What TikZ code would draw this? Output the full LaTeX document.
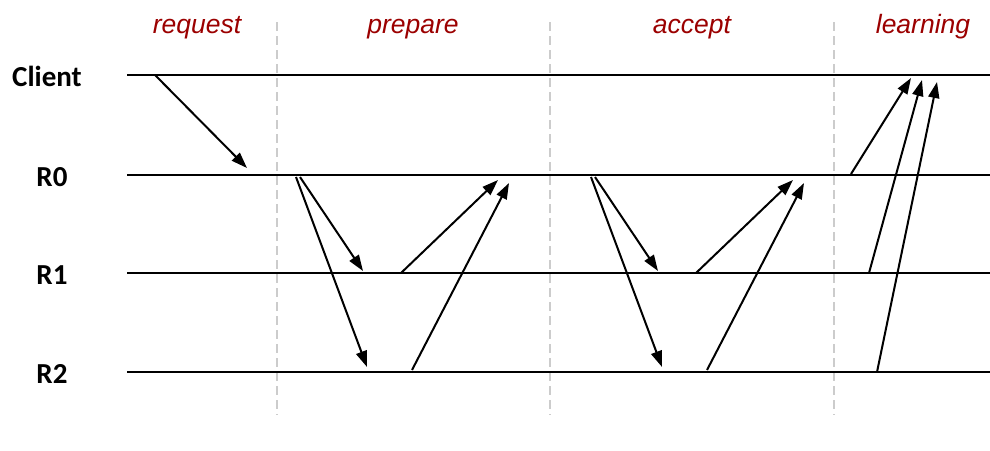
\documentclass[tikz,border=0pt]{standalone}
\usepackage{fontspec}
\setmainfont{Carlito}
\newfontfamily\phasefont{Liberation Sans}
\usetikzlibrary{arrows.meta}
\definecolor{phasered}{RGB}{155,0,0}
\tikzstyle{lane}=[line width=2.4pt]
\tikzstyle{msg}=[line width=2pt,-{Triangle[length=16pt,width=11pt]}]
\tikzstyle{sep}=[line width=2pt,black!20,dash pattern=on 9pt off 5pt]
\tikzstyle{phase}=[font=\phasefont\itshape\fontsize{26.5}{26.5}\selectfont,text=phasered,anchor=base,inner sep=0pt]
\tikzstyle{who}=[font=\bfseries\fontsize{29}{29}\selectfont,anchor=base,inner sep=0pt]

\begin{document}
\begin{tikzpicture}[x=1pt,y=-1pt]
	\useasboundingbox (0,0) rectangle (990,450);
	% phase separators
	\foreach \x/\nm in {277/s1,550/s2,834/s3}
		\draw[sep] (\x,22) coordinate (\nm-top) -- (\x,415) coordinate (\nm-bot);
	% phase names
	\node (request) [phase] at (197,33) {request};
	\node (prepare) [phase] at (413,33) {prepare};
	\node (accept) [phase] at (692,33) {accept};
	\node (learning) [phase] at (923,33) {learning};
	% lanes
	\foreach \y/\nm/\txt/\lx in {75/client/Client/47,175/r0/R0/52,273/r1/R1/52,372/r2/R2/52} {
		\node (\nm) [who] at (\lx,\y+11) {\txt};
		\draw[lane] (127,\y) coordinate (\nm-w) -- (990,\y) coordinate (\nm-e);
	}
	% request
	\coordinate (q-out) at (155,75);
	\coordinate (q-in) at (247,168);
	\draw[msg] (q-out) -- (q-in);
	% prepare and accept rounds
	\foreach \dx/\nm in {0/prep,295/acc} {
		\coordinate (\nm-a) at (300+\dx,177);
		\coordinate (\nm-b) at (296+\dx,177);
		\coordinate (\nm-a1) at (363+\dx,271);
		\coordinate (\nm-b1) at (367+\dx,367);
		\coordinate (\nm-c) at (401+\dx,273);
		\coordinate (\nm-d) at (412+\dx,370);
		\coordinate (\nm-c1) at (498+\dx,180);
		\coordinate (\nm-d1) at (509+\dx,183);
		\draw[msg] (\nm-a) -- (\nm-a1);
		\draw[msg] (\nm-b) -- (\nm-b1);
		\draw[msg] (\nm-c) -- (\nm-c1);
		\draw[msg] (\nm-d) -- (\nm-d1);
	}
	% learning
	\coordinate (l0) at (851,174);
	\coordinate (l1) at (869,273);
	\coordinate (l2) at (877,372);
	\coordinate (l0t) at (911,78);
	\coordinate (l1t) at (922,80);
	\coordinate (l2t) at (937,82);
	\draw[msg] (l0) -- (l0t);
	\draw[msg] (l1) -- (l1t);
	\draw[msg] (l2) -- (l2t);
\end{tikzpicture}
\end{document}
